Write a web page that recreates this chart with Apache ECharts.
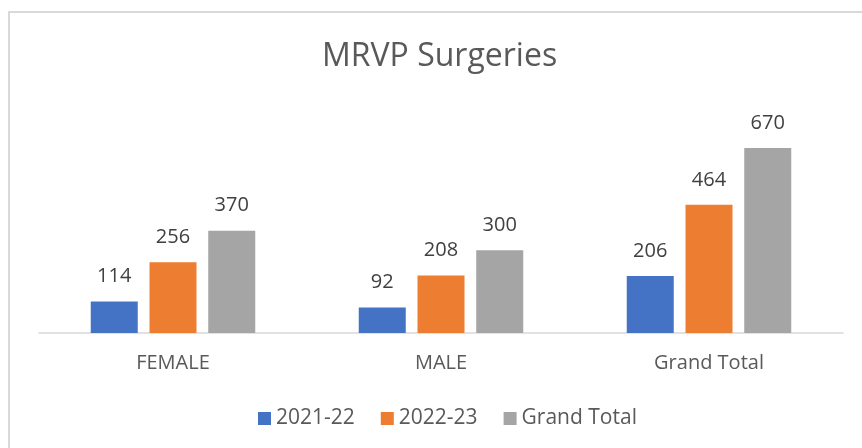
<!DOCTYPE html>
<html>
<head>
    <meta charset="utf-8">
    <title>MRVP Surgeries</title>
    <script src="https://cdn.jsdelivr.net/npm/echarts@6/dist/echarts.min.js"></script>
    <style>
        body { margin: 0; background: #fff; }
    </style>
</head>
<body>
<div id="main" style="width: 862px;height:448px;"></div>
<script type="text/javascript">
    // data
    var categories = ['FEMALE', 'MALE', 'Grand Total'];
    var year2122 = [114, 92, 206];
    var year2223 = [256, 208, 464];
    var grandTotal = [370, 300, 670];
    var seriesNames = ['2021-22', '2022-23', 'Grand Total'];
    var colors = ['#4472C4', '#ED7D31', '#A5A5A5'];

    var font = '"Open Sans", "Noto Sans", sans-serif';
    var myChart = echarts.init(document.getElementById('main'));

    function barSeries(name, data, color) {
        return {
            name: name,
            type: 'bar',
            data: data,
            barWidth: 47,
            barGap: '25%',
            itemStyle: { color: color },
            label: {
                show: true,
                position: 'top',
                distance: 15,
                color: '#404040',
                fontSize: 20,
                fontFamily: font
            }
        };
    }

    myChart.setOption({
        animation: false,
        title: {
            text: 'MRVP Surgeries',
            left: 317,
            top: 36,
            textStyle: {
                color: '#595959',
                fontSize: 32,
                fontWeight: 'normal',
                fontFamily: font
            }
        },
        legend: {
            data: seriesNames,
            top: 403,
            left: 253,
            itemWidth: 13,
            itemHeight: 13,
            itemGap: 26,
            icon: 'rect',
            textStyle: { color: '#595959', fontSize: 21, fontFamily: font }
        },
        graphic: [{
            type: 'rect',
            shape: { x: 9, y: 12, width: 900, height: 500 },
            style: { fill: 'none', stroke: '#d9d9d9', lineWidth: 2 },
            silent: true
        }],
        grid: {
            left: 39,
            right: 19,
            top: 112,
            bottom: 115
        },
        xAxis: {
            type: 'category',
            data: categories,
            axisLine: { lineStyle: { color: '#d9d9d9', width: 1.5 } },
            axisTick: { show: false },
            axisLabel: { color: '#595959', fontSize: 20, fontFamily: font, margin: 20 }
        },
        yAxis: {
            type: 'value',
            min: 0,
            max: 800,
            show: false,
            splitLine: { show: false }
        },
        series: [
            barSeries(seriesNames[0], year2122, colors[0]),
            barSeries(seriesNames[1], year2223, colors[1]),
            barSeries(seriesNames[2], grandTotal, colors[2])
        ]
    });
</script>
</body>
</html>
